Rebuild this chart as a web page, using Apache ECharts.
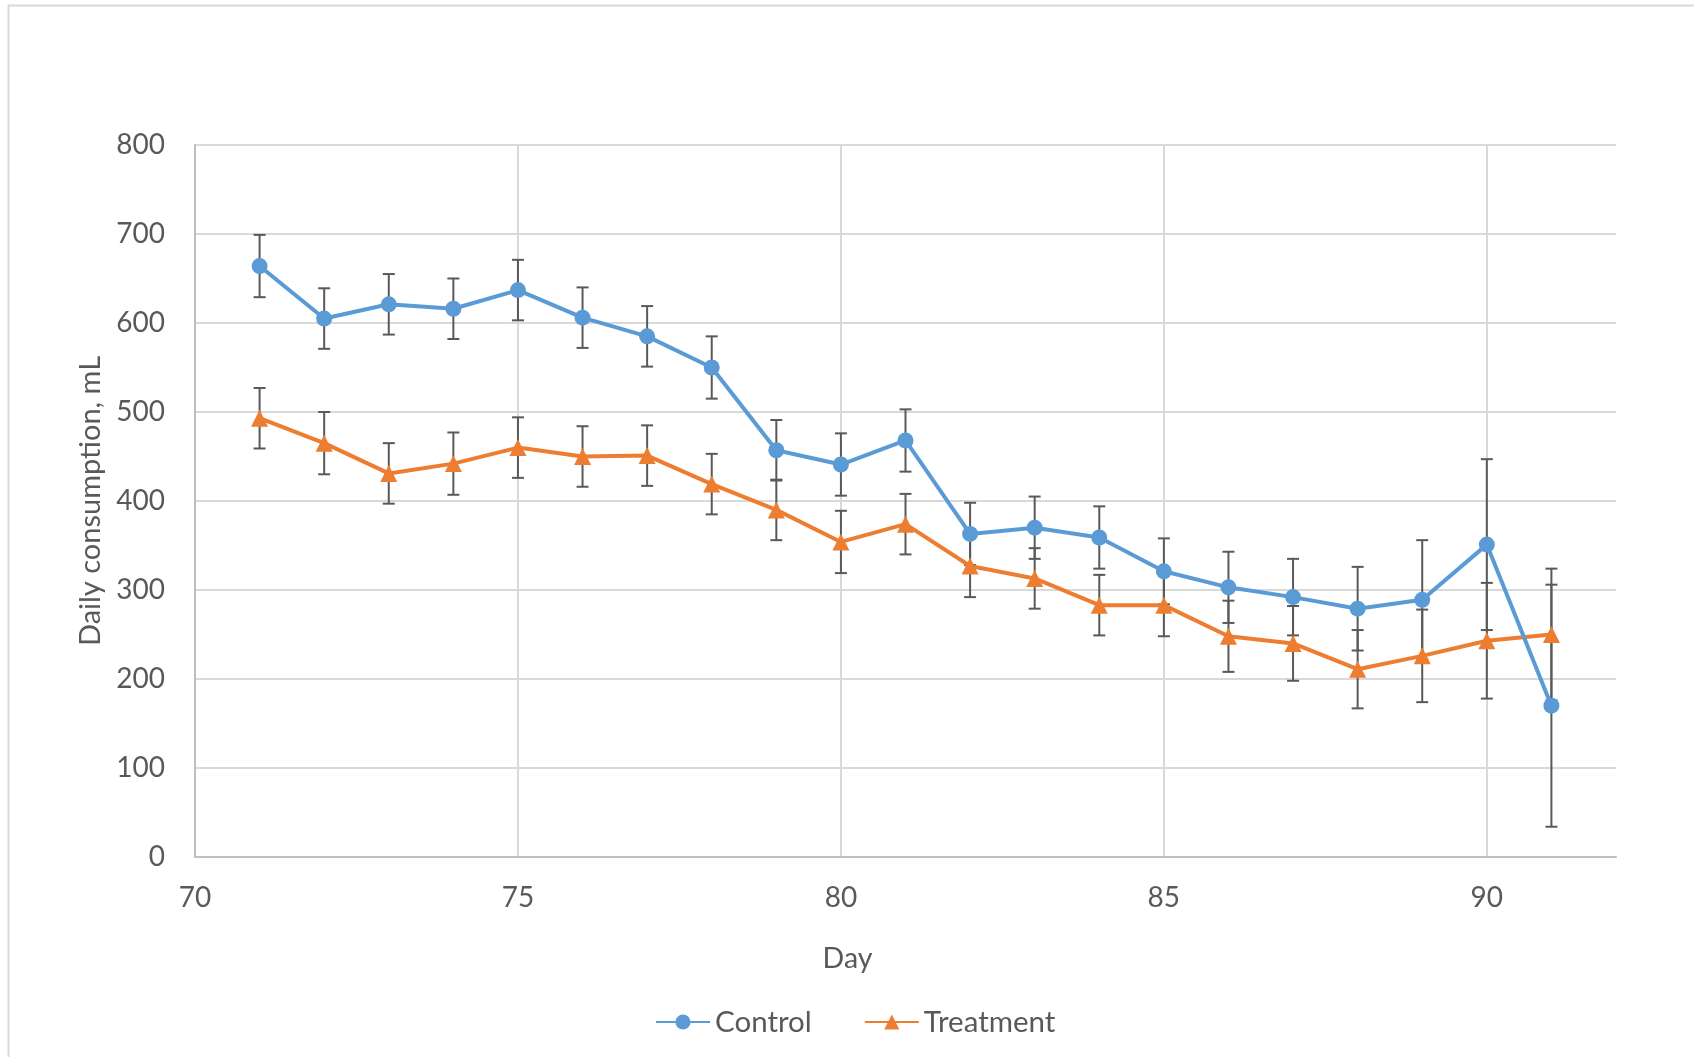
<!DOCTYPE html>
<html>
<head>
<meta charset="utf-8">
<script src="https://cdn.jsdelivr.net/npm/echarts@6/dist/echarts.min.js"></script>
<style>
  html, body { margin: 0; padding: 0; background: #fff; }
  #chart { width: 1694px; height: 1057px; }
</style>
</head>
<body>
<div id="chart"></div>
<script>
// data
const days = [71, 72, 73, 74, 75, 76, 77, 78, 79, 80, 81, 82, 83, 84, 85, 86, 87, 88, 89, 90, 91];
const control = [664, 605, 621, 616, 637, 606, 585, 550, 457, 441, 468, 363, 370, 359, 321, 303, 292, 279, 289, 351, 170];
const controlErr = [35, 34, 34, 34, 34, 34, 34, 35, 34, 35, 35, 35, 35, 35, 37, 40, 43, 47, 67, 96, 136];
const treatment = [493, 465, 431, 442, 460, 450, 451, 419, 390, 354, 374, 327, 313, 283, 283, 248, 240, 211, 226, 243, 250];
const treatmentErr = [34, 35, 34, 35, 34, 34, 34, 34, 34, 35, 34, 35, 34, 34, 35, 40, 42, 44, 52, 65, 74];

const FONT = 'Lato';
const TEXT = '#595959';
const GRID = '#d9d9d9';

const pts = (vals) => days.map((d, i) => [d, vals[i]]);
const errs = (vals, e) => days.map((d, i) => [d, vals[i] - e[i], vals[i] + e[i]]);

// error bar with caps, drawn under the lines
function renderErr(params, api) {
  const x = api.value(0);
  const lo = api.coord([x, api.value(1)]);
  const hi = api.coord([x, api.value(2)]);
  const w = 6;
  const style = { stroke: '#595959', lineWidth: 2 };
  return {
    type: 'group',
    children: [
      { type: 'line', shape: { x1: lo[0], y1: lo[1], x2: hi[0], y2: hi[1] }, style },
      { type: 'line', shape: { x1: lo[0] - w, y1: lo[1], x2: lo[0] + w, y2: lo[1] }, style },
      { type: 'line', shape: { x1: hi[0] - w, y1: hi[1], x2: hi[0] + w, y2: hi[1] }, style },
    ],
  };
}

const myChart = echarts.init(document.getElementById('chart'));
myChart.setOption({
  animation: false,
  textStyle: { fontFamily: FONT },
  graphic: [
    {
      type: 'rect',
      shape: { x: 8.5, y: 5.5, width: 1700, height: 1060 },
      style: { fill: 'none', stroke: GRID, lineWidth: 2 },
      silent: true,
    },
  ],
  grid: { left: 195, right: 78, top: 145, bottom: 200, containLabel: false },
  legend: {
    data: ['Control', 'Treatment'],
    left: 650,
    top: 1002,
    itemWidth: 54,
    itemHeight: 19,
    itemGap: 52,
    textStyle: { color: TEXT, fontSize: 29.5, fontFamily: FONT },
  },
  xAxis: {
    type: 'value',
    min: 70,
    max: 92,
    interval: 5,
    name: 'Day',
    nameLocation: 'middle',
    nameGap: 87,
    nameTextStyle: { color: TEXT, fontSize: 28.5, fontFamily: FONT, padding: [0, 116, 0, 0] },
    axisLine: { show: true, lineStyle: { color: '#bfbfbf', width: 2 } },
    axisTick: { show: false },
    axisLabel: { color: TEXT, fontSize: 28, margin: 27, showMaxLabel: false, fontFamily: FONT },
    splitLine: { show: true, showMinLine: false, showMaxLine: false, lineStyle: { color: GRID, width: 2 } },
  },
  yAxis: {
    type: 'value',
    min: 0,
    max: 800,
    interval: 100,
    name: 'Daily consumption, mL',
    nameLocation: 'middle',
    nameGap: 89,
    nameTextStyle: { color: TEXT, fontSize: 29, fontFamily: FONT },
    axisLine: { show: true, lineStyle: { color: '#bfbfbf', width: 2 } },
    axisTick: { show: false },
    axisLabel: { color: TEXT, fontSize: 28, margin: 30, fontFamily: FONT },
    splitLine: { show: true, lineStyle: { color: GRID, width: 2 } },
  },
  series: [
    {
      name: 'ControlErr',
      type: 'custom',
      renderItem: renderErr,
      data: errs(control, controlErr),
      z: 1,
      silent: true,
    },
    {
      name: 'TreatmentErr',
      type: 'custom',
      renderItem: renderErr,
      data: errs(treatment, treatmentErr),
      z: 1,
      silent: true,
    },
    {
      name: 'Control',
      type: 'line',
      data: pts(control),
      symbol: 'circle',
      symbolSize: 16,
      color: '#5b9bd5',
      lineStyle: { width: 4 },
      z: 3,
    },
    {
      name: 'Treatment',
      type: 'line',
      data: pts(treatment),
      symbol: 'triangle',
      symbolSize: 17,
      color: '#ed7d31',
      lineStyle: { width: 4 },
      z: 2,
    },
  ],
});
</script>
</body>
</html>
